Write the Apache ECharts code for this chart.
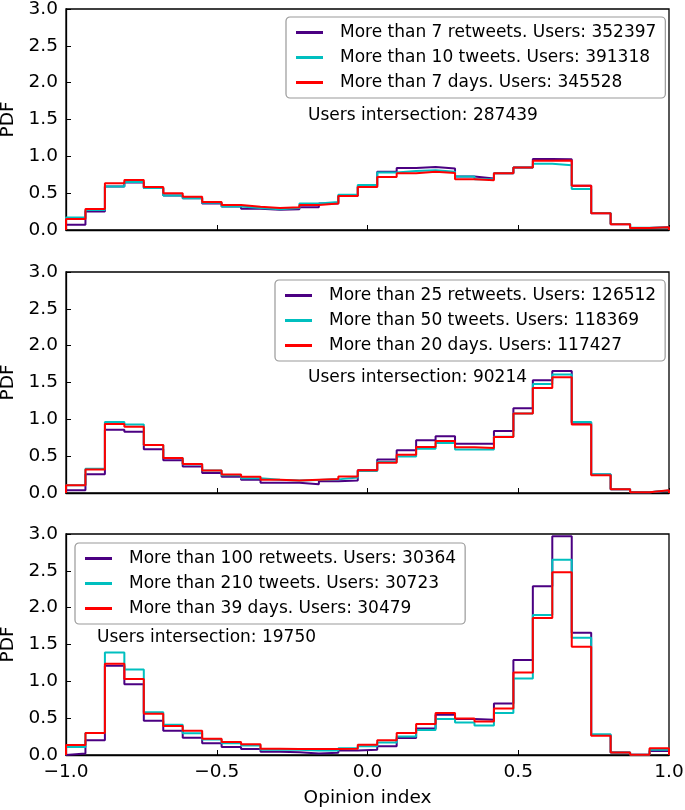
<!DOCTYPE html>
<html>
<head>
<meta charset="utf-8">
<script src="https://cdn.jsdelivr.net/npm/echarts@6/dist/echarts.min.js"></script>
<style>html,body{margin:0;padding:0;background:#fff}#c{width:685px;height:810px}</style>
</head>
<body>
<div id="c"></div>
<script>
// 31 equal-width bins over the opinion index range [-1, 1]
const BIN_COUNT = 31;
const X_MIN = -1, X_MAX = 1;
const Y_TICKS = [0, 0.5, 1.0, 1.5, 2.0, 2.5, 3.0];
const X_TICKS = [-1.0, -0.5, 0.0, 0.5, 1.0];

// Panel 1
const p1Names = ['More than 7 retweets. Users: 352397', 'More than 10 tweets. Users: 391318', 'More than 7 days. Users: 345528'];
const p1Intersection = 'Users intersection: 287439';
const p1Retweets = [0.07,0.25,0.59,0.645,0.57,0.47,0.43,0.36,0.32,0.29,0.275,0.28,0.31,0.36,0.465,0.59,0.79,0.84,0.855,0.835,0.725,0.70,0.77,0.85,0.965,0.96,0.60,0.226,0.077,0.027,0.036];
const p1Tweets   = [0.17,0.27,0.59,0.65,0.57,0.47,0.43,0.37,0.32,0.30,0.28,0.30,0.36,0.38,0.48,0.61,0.78,0.80,0.81,0.79,0.725,0.69,0.77,0.85,0.90,0.88,0.555,0.23,0.08,0.03,0.035];
const p1Days     = [0.15,0.284,0.635,0.68,0.585,0.50,0.45,0.38,0.34,0.315,0.30,0.31,0.34,0.36,0.46,0.585,0.72,0.77,0.79,0.775,0.69,0.675,0.77,0.85,0.94,0.945,0.60,0.226,0.077,0.027,0.036];

// Panel 2
const p2Names = ['More than 25 retweets. Users: 126512', 'More than 50 tweets. Users: 118369', 'More than 20 days. Users: 117427'];
const p2Intersection = 'Users intersection: 90214';
const p2Retweets = [0.037,0.255,0.86,0.83,0.595,0.445,0.36,0.27,0.22,0.18,0.14,0.14,0.12,0.16,0.17,0.31,0.455,0.58,0.715,0.77,0.67,0.67,0.84,1.15,1.53,1.655,0.955,0.25,0.05,0.01,0.03];
const p2Tweets   = [0.105,0.33,0.965,0.93,0.65,0.475,0.39,0.305,0.24,0.20,0.18,0.17,0.175,0.185,0.21,0.30,0.42,0.495,0.60,0.68,0.59,0.59,0.765,1.08,1.48,1.61,0.965,0.255,0.05,0.01,0.035];
const p2Days     = [0.105,0.32,0.935,0.90,0.65,0.475,0.395,0.305,0.25,0.22,0.18,0.17,0.18,0.19,0.225,0.31,0.41,0.52,0.625,0.705,0.62,0.61,0.76,1.08,1.425,1.57,0.93,0.24,0.05,0.01,0.037];

// Panel 3
const p3Names = ['More than 100 retweets. Users: 30364', 'More than 210 tweets. Users: 30723', 'More than 39 days. Users: 30479'];
const p3Intersection = 'Users intersection: 19750';
const p3Retweets = [0.02,0.20,1.21,0.96,0.465,0.33,0.235,0.16,0.11,0.08,0.045,0.037,0.02,0.03,0.06,0.07,0.12,0.23,0.36,0.545,0.49,0.48,0.70,1.29,2.29,2.97,1.66,0.27,0.035,0.005,0.055];
const p3Tweets   = [0.11,0.30,1.39,1.16,0.58,0.41,0.295,0.21,0.16,0.13,0.07,0.07,0.06,0.06,0.09,0.12,0.17,0.25,0.34,0.49,0.44,0.40,0.57,1.04,1.90,2.65,1.59,0.28,0.035,0.005,0.07];
const p3Days     = [0.136,0.30,1.24,1.03,0.56,0.395,0.33,0.22,0.177,0.145,0.086,0.083,0.083,0.08,0.086,0.14,0.20,0.30,0.42,0.57,0.495,0.455,0.63,1.12,1.86,2.48,1.47,0.26,0.035,0.005,0.09];

const COLORS = ['#4b0082', '#00bfbf', '#ff0000'];
const FONT = 'DejaVu Sans';

function stepPoints(vals) {
  const w = (X_MAX - X_MIN) / BIN_COUNT;
  const pts = [[X_MIN, 0]];
  for (let i = 0; i < vals.length; i++) pts.push([X_MIN + i * w, vals[i]]);
  pts.push([X_MAX, vals[vals.length - 1]]);
  pts.push([X_MAX, 0]);
  return pts;
}
function fmt(v) { return (v < 0 ? '\u2212' : '') + Math.abs(v).toFixed(1); }

const panels = [
  { names: p1Names, data: [p1Retweets, p1Tweets, p1Days], inter: p1Intersection, top: 9, legend: { left: 286, top: 17 }, text: { x: 308, y: 115 } },
  { names: p2Names, data: [p2Retweets, p2Tweets, p2Days], inter: p2Intersection, top: 272, legend: { left: 275, top: 280 }, text: { x: 308, y: 377 } },
  { names: p3Names, data: [p3Retweets, p3Tweets, p3Days], inter: p3Intersection, top: 534, legend: { left: 75, top: 543 }, text: { x: 97, y: 637 } }
];

const grid = [], xAxis = [], yAxis = [], series = [], legend = [], graphic = [];
panels.forEach((p, i) => {
  grid.push({ left: 66, top: p.top, width: 603, height: 221, show: true, borderColor: '#000', borderWidth: 1.3, backgroundColor: 'transparent', containLabel: false, outerBoundsMode: 'none' });
  const last = i === panels.length - 1;
  xAxis.push({
    type: 'value', gridIndex: i, min: X_MIN, max: X_MAX, interval: 0.5,
    axisLine: { show: true, onZero: false, lineStyle: { color: '#000', width: 1.3 } },
    axisTick: { show: true, inside: true, length: 5, lineStyle: { color: '#000', width: 1 } },
    axisLabel: { show: last, margin: 8, fontSize: 18.5, fontFamily: FONT, color: '#000', formatter: fmt },
    splitLine: { show: false },
    name: last ? 'Opinion index' : '', nameLocation: 'middle', nameGap: 34,
    nameTextStyle: { fontSize: 18.5, fontFamily: FONT, color: '#000' }
  });
  yAxis.push({
    type: 'value', gridIndex: i, min: 0, max: 3, interval: 0.5,
    axisLine: { show: true, onZero: false, lineStyle: { color: '#000', width: 1.3 } },
    axisTick: { show: true, inside: true, length: 5, lineStyle: { color: '#000', width: 1 } },
    axisLabel: { margin: 8, fontSize: 18.5, fontFamily: FONT, color: '#000', formatter: v => v.toFixed(1) },
    splitLine: { show: false },
    name: 'PDF', nameLocation: 'middle', nameGap: 47,
    nameTextStyle: { fontSize: 18.5, fontFamily: FONT, color: '#000' }
  });
  p.data.forEach((vals, k) => {
    series.push({
      type: 'line', name: p.names[k], xAxisIndex: i, yAxisIndex: i,
      data: stepPoints(vals), step: 'end', showSymbol: false, symbol: 'none',
      lineStyle: { color: COLORS[k], width: 2 }, itemStyle: { color: COLORS[k] },
      animation: false, z: 2 + k
    });
  });
  legend.push({
    data: p.names.map(n => ({ name: n, icon: 'rect' })),
    orient: 'vertical', left: p.legend.left, top: p.legend.top,
    itemWidth: 27, itemHeight: 3, itemGap: 8,
    padding: [7, 9, 7, 10],
    backgroundColor: '#fff', borderColor: '#999', borderWidth: 1.2, borderRadius: 4,
    textStyle: { fontSize: 17, fontFamily: FONT, color: '#000', padding: [0, 0, 0, 12] },
    selectedMode: false, z: 10
  });
  graphic.push({
    type: 'text', left: p.text.x, top: p.text.y - 8, z: 10,
    style: { text: p.inter, fontSize: 17, fontFamily: FONT, fill: '#000' }
  });
});

const chart = echarts.init(document.getElementById('c'), null, { renderer: 'canvas' });
chart.setOption({ animation: false, backgroundColor: '#fff', grid, xAxis, yAxis, series, legend, graphic });
</script>
</body>
</html>
